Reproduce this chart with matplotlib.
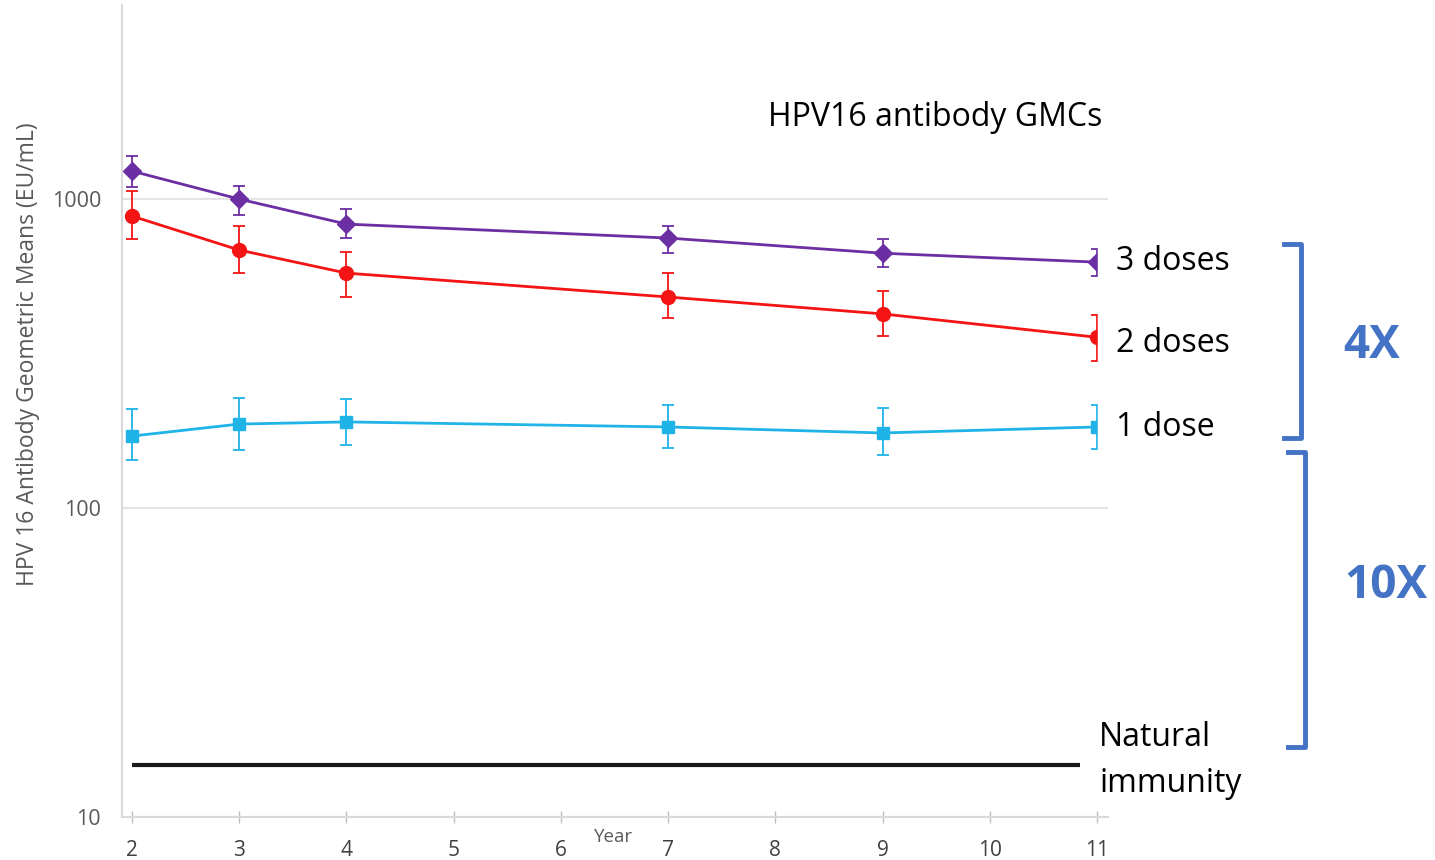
import matplotlib.pyplot as plt
from matplotlib.lines import Line2D
from matplotlib.patches import Rectangle

# data
years = [2, 3, 4, 7, 9, 11]

three_doses = [1232, 1000, 830, 748, 668, 625]
three_lo = [1094, 888, 748, 669, 603, 563]
three_hi = [1377, 1102, 928, 818, 742, 689]

two_doses = [881, 684, 576, 482, 425, 357]
two_lo = [742, 576, 482, 412, 361, 299]
two_hi = [1061, 818, 674, 576, 504, 421]

one_dose = [171, 187, 190, 183, 175, 183]
one_lo = [143, 154, 160, 156, 148, 155]
one_hi = [209, 227, 225, 215, 211, 215]

natural_level = 14.7
natural_span = [2, 10.84]

x_ticks = list(range(2, 12))
y_ticks = [10, 100, 1000]

PURPLE = "#6B2FA3"
RED = "#F41414"
CYAN = "#1FB3E8"
BLUE = "#4472C4"
GREY_TXT = "#595959"

plt.rcParams["font.family"] = ["Open Sans", "DejaVu Sans"]

W, H = 1435, 860
fig = plt.figure(figsize=(W / 100, H / 100), dpi=100)
ax = fig.add_axes([122 / W, 1 - 817 / H, (1108 - 122) / W, (817 - 5) / H])

series = [
    (three_doses, three_lo, three_hi, PURPLE, "D", 9),
    (two_doses, two_lo, two_hi, RED, "o", 10),
    (one_dose, one_lo, one_hi, CYAN, "s", 9),
]
for vals, lo, hi, color, marker, ms in series:
    err = [[v - l for v, l in zip(vals, lo)], [h - v for v, h in zip(vals, hi)]]
    ax.errorbar(years, vals, yerr=err, color=color, marker=marker, ms=ms,
                lw=2, elinewidth=1.3, capsize=4, capthick=1.3, zorder=3)

ax.hlines(natural_level, natural_span[0], natural_span[1], color="#1a1a1a", lw=3, zorder=3)

ax.set_yscale("log")
ax.set_ylim(10, 4248)
ax.set_xlim(1.9067, 11.103)
ax.set_yticks(y_ticks)
ax.set_yticklabels([str(t) for t in y_ticks])
ax.minorticks_off()
ax.set_xticks(x_ticks)
ax.yaxis.grid(True, color="#E4E4E4", lw=1.5)
ax.set_axisbelow(True)

for s in ["top", "right"]:
    ax.spines[s].set_visible(False)
for s in ["left", "bottom"]:
    ax.spines[s].set_color("#D9D9D9")
    ax.spines[s].set_linewidth(1.5)

ax.tick_params(axis="x", direction="inout", length=9, width=1, color="#BFBFBF",
               labelsize=15, labelcolor="#404040", pad=12)
ax.tick_params(axis="y", length=0, labelsize=15.5, labelcolor=GREY_TXT, pad=15)

fig.text(28 / W, 1 - 354 / H, "HPV 16 Antibody Geometric Means (EU/mL)", fontsize=16.5,
         color=GREY_TXT, rotation=90, ha="center", va="center")
fig.text(614 / W, 1 - 828 / H, "Year", fontsize=13.5, color=GREY_TXT, ha="center", va="top")

# white box behind the dose labels hides the right half of the last markers
fig.patches.append(Rectangle((1098 / W, 1 - 470 / H), 14 / W, 235 / H,
                             transform=fig.transFigure, color="white", zorder=5))

fig.text(1102 / W, 1 - 118 / H, "HPV16 antibody GMCs", fontsize=23, ha="right", va="center")
fig.text(1116 / W, 1 - 262 / H, "3 doses", fontsize=23, va="center")
fig.text(1116 / W, 1 - 344 / H, "2 doses", fontsize=23, va="center")
fig.text(1116 / W, 1 - 428 / H, "1 dose", fontsize=23, va="center")
fig.text(1099 / W, 1 - 738 / H, "Natural", fontsize=23, va="center")
fig.text(1099 / W, 1 - 783 / H, "immunity", fontsize=23, va="center")

# brackets
for x0, x1, y0, y1 in [(1284, 1301, 244, 438), (1288, 1305, 452, 747)]:
    xs = [x0 / W, x1 / W, x1 / W, x0 / W]
    ys = [1 - y0 / H, 1 - y0 / H, 1 - y1 / H, 1 - y1 / H]
    fig.lines.append(Line2D(xs, ys, transform=fig.transFigure, color=BLUE,
                            lw=3.5, solid_joinstyle="round"))

fig.text(1372 / W, 1 - 345 / H, "4X", fontsize=33, fontweight="bold", color=BLUE,
         ha="center", va="center")
fig.text(1386 / W, 1 - 585 / H, "10X", fontsize=33, fontweight="bold", color=BLUE,
         ha="center", va="center")

fig.savefig("out.png", dpi=100)
